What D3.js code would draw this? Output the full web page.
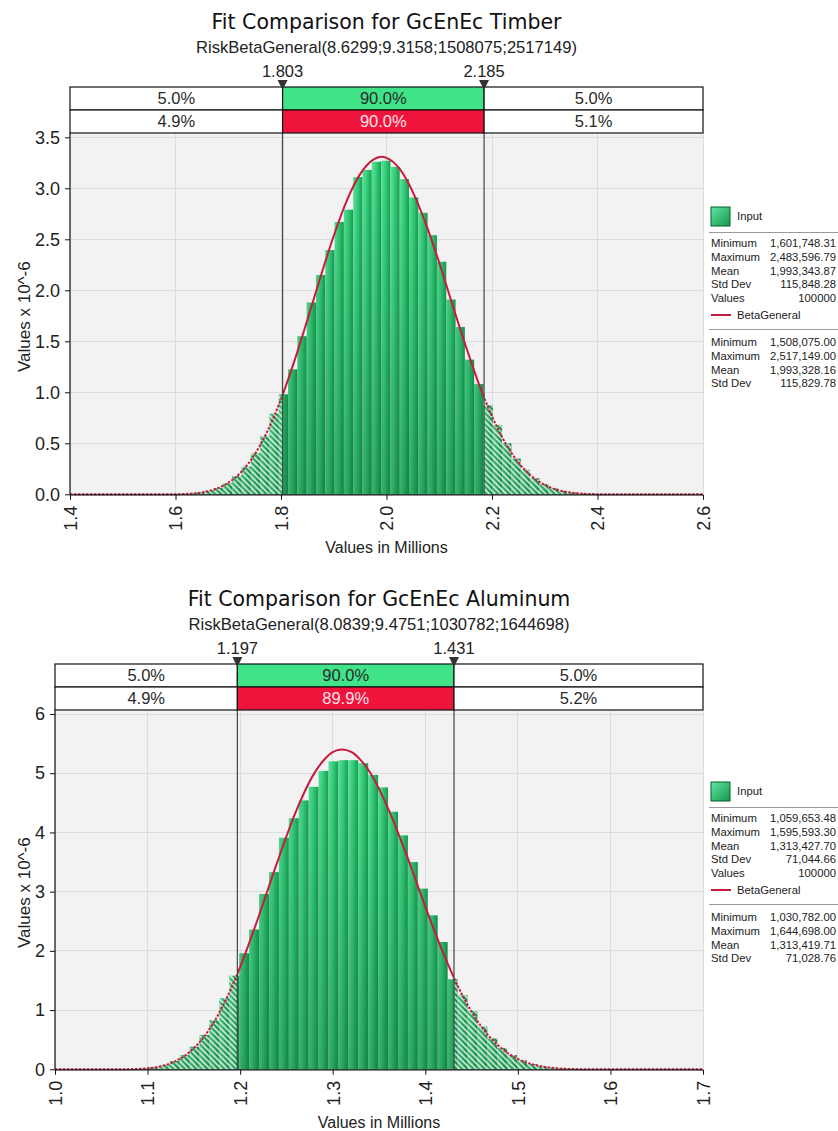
<!DOCTYPE html>
<html><head><meta charset="utf-8">
<script src="https://cdn.jsdelivr.net/npm/d3@7"></script>
<style>body{margin:0;background:#fff} svg{display:block}</style>
</head><body>
<svg id="c" width="838" height="1131"></svg>
<script>
// ================= DATA =================
// ---- Timber ----
const timberTitle = "Fit Comparison for GcEnEc Timber";
const timberSubtitle = "RiskBetaGeneral(8.6299;9.3158;1508075;2517149)";
const timberMarkers = [1.803, 2.185];
const timberBandInput = ["5.0%", "90.0%", "5.0%"];
const timberBandFit = ["4.9%", "90.0%", "5.1%"];
const timberXTicks = [1.4, 1.6, 1.8, 2.0, 2.2, 2.4, 2.6];
const timberYTicks = [0, 0.5, 1.0, 1.5, 2.0, 2.5, 3.0, 3.5];
const timberHistRange = [1.60174831, 2.48359679];
const timberHist = [0.003, 0.008, 0.018, 0.035, 0.062, 0.11, 0.18, 0.27, 0.40, 0.57,
  0.79, 0.98, 1.225, 1.55, 1.88, 2.15, 2.395, 2.67, 2.79, 3.11,
  3.18, 3.26, 3.27, 3.21, 3.09, 2.91, 2.76, 2.54, 2.28, 1.91,
  1.64, 1.32, 1.08, 0.875, 0.68, 0.50, 0.35, 0.24, 0.16, 0.10,
  0.058, 0.032, 0.017, 0.008, 0.004, 0.002, 0.001, 0.0005, 0.0003, 0.0001];
const timberCurveX = [1.400, 1.425, 1.450, 1.475, 1.500, 1.525, 1.550, 1.575, 1.600, 1.625,
  1.650, 1.675, 1.700, 1.725, 1.750, 1.775, 1.800, 1.825, 1.850, 1.875,
  1.900, 1.925, 1.950, 1.975, 1.990, 2.000, 2.025, 2.050, 2.075, 2.100,
  2.125, 2.150, 2.175, 2.200, 2.225, 2.250, 2.275, 2.300, 2.325, 2.350,
  2.375, 2.400, 2.425, 2.450, 2.475, 2.500, 2.525, 2.550, 2.575, 2.600];
const timberCurveY = [0, 0, 0, 0, 0, 0, 0, 0.0002, 0.0011, 0.0053,
  0.0185, 0.050, 0.113, 0.221, 0.390, 0.627, 0.933, 1.301, 1.710, 2.133,
  2.535, 2.882, 3.139, 3.282, 3.310, 3.298, 3.190, 2.963, 2.646, 2.270,
  1.860, 1.457, 1.084, 0.764, 0.506, 0.312, 0.178, 0.092, 0.042, 0.017,
  0.0054, 0.0013, 0.0002, 0, 0, 0, 0, 0, 0, 0];
const timberInputStats = [["Minimum", "1,601,748.31"], ["Maximum", "2,483,596.79"], ["Mean", "1,993,343.87"], ["Std Dev", "115,848.28"], ["Values", "100000"]];
const timberFitStats = [["Minimum", "1,508,075.00"], ["Maximum", "2,517,149.00"], ["Mean", "1,993,328.16"], ["Std Dev", "115,829.78"]];

// ---- Aluminum ----
const aluTitle = "Fit Comparison for GcEnEc Aluminum";
const aluSubtitle = "RiskBetaGeneral(8.0839;9.4751;1030782;1644698)";
const aluMarkers = [1.197, 1.431];
const aluBandInput = ["5.0%", "90.0%", "5.0%"];
const aluBandFit = ["4.9%", "89.9%", "5.2%"];
const aluXTicks = [1.0, 1.1, 1.2, 1.3, 1.4, 1.5, 1.6, 1.7];
const aluYTicks = [0, 1, 2, 3, 4, 5, 6];
const aluHistRange = [1.05965348, 1.59559330];
const aluHist = [0.001, 0.002, 0.005, 0.014, 0.035, 0.075, 0.14, 0.24, 0.38, 0.58,
  0.83, 1.20, 1.58, 1.96, 2.36, 2.96, 3.33, 3.91, 4.24, 4.54,
  4.77, 5.04, 5.20, 5.22, 5.22, 5.17, 4.97, 4.76, 4.35, 3.95,
  3.50, 3.05, 2.60, 2.15, 1.52, 1.25, 0.98, 0.72, 0.52, 0.36,
  0.24, 0.15, 0.09, 0.05, 0.027, 0.014, 0.006, 0.003, 0.001, 0.0005];
const aluCurveX = [1.00, 1.02, 1.04, 1.06, 1.08, 1.10, 1.12, 1.14, 1.16, 1.18,
  1.20, 1.22, 1.24, 1.26, 1.28, 1.29, 1.30, 1.31, 1.32, 1.33,
  1.34, 1.36, 1.38, 1.40, 1.42, 1.44, 1.46, 1.48, 1.50, 1.52,
  1.54, 1.56, 1.58, 1.60, 1.62, 1.64, 1.66, 1.68, 1.70];
const aluCurveY = [0, 0, 0, 0.0001, 0.002, 0.017, 0.075, 0.227, 0.530, 1.029,
  1.727, 2.580, 3.494, 4.342, 4.997, 5.215, 5.357, 5.400, 5.359, 5.226,
  5.021, 4.399, 3.612, 2.748, 1.939, 1.254, 0.732, 0.384, 0.175, 0.067,
  0.020, 0.0044, 0.0006, 0, 0, 0, 0, 0, 0];
const aluInputStats = [["Minimum", "1,059,653.48"], ["Maximum", "1,595,593.30"], ["Mean", "1,313,427.70"], ["Std Dev", "71,044.66"], ["Values", "100000"]];
const aluFitStats = [["Minimum", "1,030,782.00"], ["Maximum", "1,644,698.00"], ["Mean", "1,313,419.71"], ["Std Dev", "71,028.76"]];

const yAxisTitle = "Values x 10^-6";
const xAxisTitle = "Values in Millions";
const inputLabel = "Input";
const fitLabel = "BetaGeneral";

// ================= DRAW =================
const NUM = "'Liberation Sans', Arial, sans-serif";
const TTL = "'DejaVu Sans', Verdana, sans-serif";
const GREEN_BAND = "#40e388", RED_BAND = "#ef143c", CURVE = "#c81a3c";

const svg = d3.select("#c");
const defs = svg.append("defs");

const gH = defs.append("linearGradient").attr("id", "barH")
  .attr("x1", 0).attr("x2", 1).attr("y1", 0).attr("y2", 0);
[[0, "#5de99f"], [0.45, "#37d57e"], [1, "#19a157"]].forEach(([o, c]) =>
  gH.append("stop").attr("offset", o).attr("stop-color", c));

const gL = defs.append("linearGradient").attr("id", "legG")
  .attr("x1", 0).attr("x2", 1).attr("y1", 0).attr("y2", 1);
[[0, "#5fe6a0"], [1, "#14974c"]].forEach(([o, c]) =>
  gL.append("stop").attr("offset", o).attr("stop-color", c));

const pat = defs.append("pattern").attr("id", "hatch")
  .attr("patternUnits", "userSpaceOnUse").attr("width", 4).attr("height", 4)
  .attr("patternTransform", "rotate(-45)");
pat.append("rect").attr("x", 0).attr("y", 0).attr("width", 1.5).attr("height", 4)
  .attr("fill", "#fff").attr("opacity", 0.88);

function drawChart(id, d, L) {
  const g = svg.append("g");
  const x = d3.scaleLinear().domain(d3.extent(d.xTicks)).range([L.left, L.right]);
  const y = d3.scaleLinear().domain([0, d3.max(d.yTicks)]).range([L.y0, L.yMax]);
  const [m1, m2] = d.markers.map(x);
  const cx = (L.left + L.right) / 2;

  const gv = defs.append("linearGradient").attr("id", id + "V")
    .attr("gradientUnits", "userSpaceOnUse")
    .attr("x1", 0).attr("x2", 0).attr("y1", L.plotTop).attr("y2", L.y0);
  gv.append("stop").attr("offset", 0).attr("stop-color", "#003c14").attr("stop-opacity", 0);
  gv.append("stop").attr("offset", 1).attr("stop-color", "#003c14").attr("stop-opacity", 0.32);

  const tail = defs.append("clipPath").attr("id", id + "Tail");
  tail.append("rect").attr("x", L.left - 2).attr("y", L.plotTop - 5).attr("width", m1 - L.left + 2).attr("height", L.y0 - L.plotTop + 10);
  tail.append("rect").attr("x", m2).attr("y", L.plotTop - 5).attr("width", L.right - m2 + 2).attr("height", L.y0 - L.plotTop + 10);
  defs.append("clipPath").attr("id", id + "Mid").append("rect")
    .attr("x", m1).attr("y", L.plotTop - 5).attr("width", m2 - m1).attr("height", L.y0 - L.plotTop + 10);

  // plot background
  g.append("rect").attr("x", L.left).attr("y", L.plotTop)
    .attr("width", L.right - L.left).attr("height", L.y0 - L.plotTop).attr("fill", "#f2f2f2");

  // grid
  const grid = g.append("g").attr("stroke", "#dcdcdc").attr("stroke-width", 1).attr("shape-rendering", "crispEdges");
  grid.selectAll("line.gx").data(d.xTicks).join("line")
    .attr("x1", t => x(t)).attr("x2", t => x(t)).attr("y1", L.plotTop).attr("y2", L.y0);
  grid.selectAll("line.gy").data(d.yTicks).join("line")
    .attr("x1", L.left).attr("x2", L.right).attr("y1", t => y(t)).attr("y2", t => y(t));

  // histogram
  const n = d.hist.length, bw = (d.histRange[1] - d.histRange[0]) / n;
  const bins = d.hist.map((v, i) => ({ x0: d.histRange[0] + i * bw, x1: d.histRange[0] + (i + 1) * bw, v }));
  const barAttrs = sel => sel.attr("x", b => x(b.x0)).attr("width", b => x(b.x1) - x(b.x0))
    .attr("y", b => y(b.v)).attr("height", b => L.y0 - y(b.v));
  g.append("g").selectAll("rect").data(bins).join("rect").call(barAttrs).attr("fill", "url(#barH)");
  g.append("g").selectAll("rect").data(bins).join("rect").call(barAttrs).attr("fill", `url(#${id}V)`);
  g.append("g").attr("clip-path", `url(#${id}Tail)`).selectAll("rect").data(bins).join("rect")
    .call(barAttrs).attr("fill", "url(#hatch)");

  // fitted curve
  const pts = d3.zip(d.curveX, d.curveY);
  const line = d3.line().x(p => x(p[0])).y(p => y(p[1])).curve(d3.curveMonotoneX);
  g.append("path").attr("d", line(pts)).attr("clip-path", `url(#${id}Mid)`)
    .attr("fill", "none").attr("stroke", CURVE).attr("stroke-width", 2).attr("stroke-linejoin", "round");
  g.append("path").attr("d", line(pts)).attr("clip-path", `url(#${id}Tail)`)
    .attr("fill", "none").attr("stroke", CURVE).attr("stroke-width", 2)
    .attr("stroke-dasharray", "2.5,1.5");

  // marker lines
  g.selectAll("line.mk").data([m1, m2]).join("line")
    .attr("x1", v => v).attr("x2", v => v).attr("y1", L.bandTop).attr("y2", L.y0)
    .attr("stroke", "#444").attr("stroke-width", 1.2);

  // axes lines
  g.append("line").attr("x1", L.left).attr("x2", L.left).attr("y1", L.plotTop).attr("y2", L.y0 + 0.5)
    .attr("stroke", "#111").attr("stroke-width", 1.2);
  g.append("line").attr("x1", L.left).attr("x2", L.right).attr("y1", L.y0 + 0.5).attr("y2", L.y0 + 0.5)
    .attr("stroke", "#111").attr("stroke-width", 1.2);

  // x axis
  const xa = g.append("g").attr("transform", `translate(0,${L.y0 + 0.5})`)
    .call(d3.axisBottom(x).tickValues(d.xTicks).tickSize(5).tickSizeOuter(0).tickFormat(d3.format(".1f")));
  xa.select(".domain").remove();
  xa.selectAll(".tick line").attr("stroke", "#111");
  xa.selectAll(".tick text").attr("transform", "rotate(-90)").attr("text-anchor", "end")
    .attr("x", -11).attr("y", 0).attr("dy", "0.35em")
    .attr("font-family", NUM).attr("font-size", 18).attr("fill", "#222");

  // y axis
  const ya = g.append("g").attr("transform", `translate(${L.left},0)`)
    .call(d3.axisLeft(y).tickValues(d.yTicks).tickSize(5).tickSizeOuter(0).tickFormat(d3.format(d.yFmt)));
  ya.select(".domain").remove();
  ya.selectAll(".tick line").attr("stroke", "#111");
  ya.selectAll(".tick text").attr("x", -10).attr("font-family", NUM).attr("font-size", 18).attr("fill", "#222");

  // axis titles
  g.append("text").attr("x", cx).attr("y", L.y0 + 59).attr("text-anchor", "middle")
    .attr("font-family", NUM).attr("font-size", 16).attr("fill", "#222").text(xAxisTitle);
  g.append("text").attr("transform", `translate(30,${(L.plotTop + L.y0) / 2 + 3}) rotate(-90)`)
    .attr("text-anchor", "middle").attr("font-family", NUM).attr("font-size", 17).attr("fill", "#222").text(yAxisTitle);

  // bands
  const cellsX = [L.left, m1, m2, L.right];
  [d.bandInput, d.bandFit].forEach((row, r) => {
    row.forEach((txt, c) => {
      const fill = c === 1 ? (r === 0 ? GREEN_BAND : RED_BAND) : "#fff";
      g.append("rect").attr("x", cellsX[c]).attr("y", L.bandTop + r * L.rowH)
        .attr("width", cellsX[c + 1] - cellsX[c]).attr("height", L.rowH)
        .attr("fill", fill).attr("stroke", "#111").attr("stroke-width", 1.2);
      g.append("text").attr("x", (cellsX[c] + cellsX[c + 1]) / 2)
        .attr("y", L.bandTop + r * L.rowH + L.rowH / 2).attr("dy", "0.36em")
        .attr("text-anchor", "middle").attr("font-family", NUM).attr("font-size", 16.5)
        .attr("fill", (c === 1 && r === 1) ? "#fde3e8" : "#2a2a2a").text(txt);
    });
  });

  // marker triangles and labels
  d.markers.forEach(mv => {
    const px = x(mv);
    g.append("path").attr("d", `M${px - 5},${L.triTop} L${px + 5},${L.triTop} L${px},${L.triTop + 10} Z`).attr("fill", "#333");
    g.append("text").attr("x", px).attr("y", L.markLabelY).attr("text-anchor", "middle")
      .attr("font-family", NUM).attr("font-size", 16.5).attr("fill", "#222").text(d3.format(".3f")(mv));
  });

  // titles
  g.append("text").attr("x", cx).attr("y", L.titleY).attr("text-anchor", "middle")
    .attr("font-family", TTL).attr("font-size", 20.5).attr("fill", "#111").text(d.title);
  g.append("text").attr("x", cx).attr("y", L.subY).attr("text-anchor", "middle")
    .attr("font-family", NUM).attr("font-size", 16.6).attr("fill", "#222").text(d.subtitle);

  // legend
  const lg = g.append("g").attr("transform", `translate(0,${L.legendTop})`)
    .attr("font-family", NUM).attr("font-size", 11.3).attr("fill", "#222");
  lg.append("rect").attr("x", 711).attr("y", 0).attr("width", 19).attr("height", 19)
    .attr("fill", "url(#legG)").attr("stroke", "#0d5c2e").attr("stroke-width", 1);
  lg.append("text").attr("x", 737).attr("y", 9.5).attr("dy", "0.35em").text(inputLabel);
  lg.append("line").attr("x1", 709).attr("x2", 838).attr("y1", 25.5).attr("y2", 25.5).attr("stroke", "#9a9a9a");
  const rowStep = 13.8;
  d.inputStats.forEach((s, i) => {
    lg.append("text").attr("x", 711).attr("y", 36 + i * rowStep).attr("dy", "0.35em").text(s[0]);
    lg.append("text").attr("x", 836).attr("y", 36 + i * rowStep).attr("dy", "0.35em").attr("text-anchor", "end").text(s[1]);
  });
  lg.append("line").attr("x1", 711).attr("x2", 731).attr("y1", 108).attr("y2", 108).attr("stroke", CURVE).attr("stroke-width", 2);
  lg.append("text").attr("x", 737).attr("y", 108).attr("dy", "0.35em").text(fitLabel);
  lg.append("line").attr("x1", 709).attr("x2", 838).attr("y1", 122.5).attr("y2", 122.5).attr("stroke", "#9a9a9a");
  d.fitStats.forEach((s, i) => {
    lg.append("text").attr("x", 711).attr("y", 135 + i * rowStep).attr("dy", "0.35em").text(s[0]);
    lg.append("text").attr("x", 836).attr("y", 135 + i * rowStep).attr("dy", "0.35em").attr("text-anchor", "end").text(s[1]);
  });
}

drawChart("t", {
  title: timberTitle, subtitle: timberSubtitle, markers: timberMarkers,
  bandInput: timberBandInput, bandFit: timberBandFit, xTicks: timberXTicks, yTicks: timberYTicks, yFmt: ".1f",
  histRange: timberHistRange, hist: timberHist, curveX: timberCurveX, curveY: timberCurveY,
  inputStats: timberInputStats, fitStats: timberFitStats
}, { left: 70, right: 703, bandTop: 87, rowH: 23, plotTop: 133, y0: 494.3, yMax: 137.3,
     titleY: 29, subY: 53, markLabelY: 77, triTop: 80, legendTop: 207 });

drawChart("a", {
  title: aluTitle, subtitle: aluSubtitle, markers: aluMarkers,
  bandInput: aluBandInput, bandFit: aluBandFit, xTicks: aluXTicks, yTicks: aluYTicks, yFmt: "d",
  histRange: aluHistRange, hist: aluHist, curveX: aluCurveX, curveY: aluCurveY,
  inputStats: aluInputStats, fitStats: aluFitStats
}, { left: 55, right: 703, bandTop: 664, rowH: 23, plotTop: 710, y0: 1069.3, yMax: 714,
     titleY: 606, subY: 630, markLabelY: 654, triTop: 657, legendTop: 782 });
</script>
</body></html>
